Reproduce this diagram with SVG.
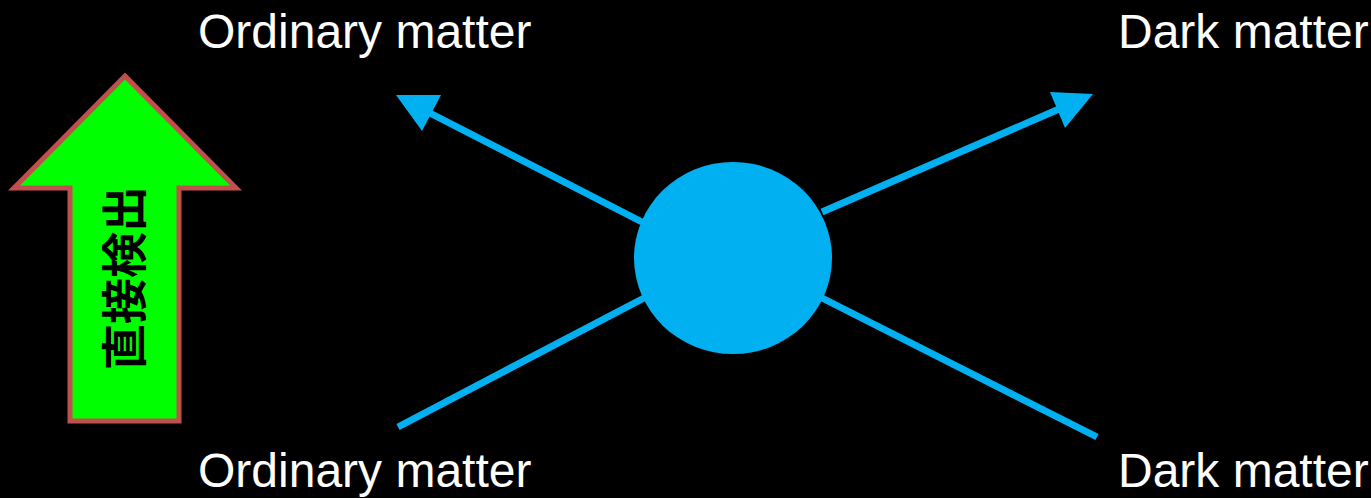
<svg xmlns="http://www.w3.org/2000/svg" width="1371" height="498" viewBox="0 0 1371 498">
<style>
.lbl{font-family:"Liberation Sans",Arial,sans-serif;font-size:48px;fill:#ffffff}
.ln{stroke:#00B0F0;stroke-width:7;fill:none}
.hd{fill:#00B0F0}
</style>
<rect x="0" y="0" width="1371" height="498" fill="#000000"/>
<g id="detect-arrow">
<polygon points="125,76 236,188 179,188 179,421 70,421 70,188 14,188" fill="#00FF00" stroke="#C0504D" stroke-width="5"/>
<text transform="translate(141,278) rotate(-90)" text-anchor="middle" font-family="'Noto Sans CJK JP','Noto Sans CJK SC',sans-serif" font-size="46" font-weight="bold" fill="#000000">直接検出</text>
</g>
<g id="connectors">
<line class="ln" x1="642" y1="222" x2="424" y2="110"/>
<polygon class="hd" points="396,95 441,95 422,131"/>
<line class="ln" x1="822" y1="212" x2="1066" y2="106"/>
<polygon class="hd" points="1093,94 1050,92 1065,128"/>
<line class="ln" x1="398" y1="427" x2="644" y2="298"/>
<line class="ln" x1="822" y1="298" x2="1097" y2="437"/>
</g>
<g id="vertex">
<ellipse cx="733" cy="258" rx="99" ry="96" fill="#00B0F0"/>
</g>
<g id="label-ordinary-top"><text class="lbl" x="198" y="48">Ordinary matter</text></g>
<g id="label-dark-top"><text class="lbl" x="1118" y="48">Dark matter</text></g>
<g id="label-ordinary-bottom"><text class="lbl" x="198" y="487">Ordinary matter</text></g>
<g id="label-dark-bottom"><text class="lbl" x="1118" y="487">Dark matter</text></g>
</svg>
